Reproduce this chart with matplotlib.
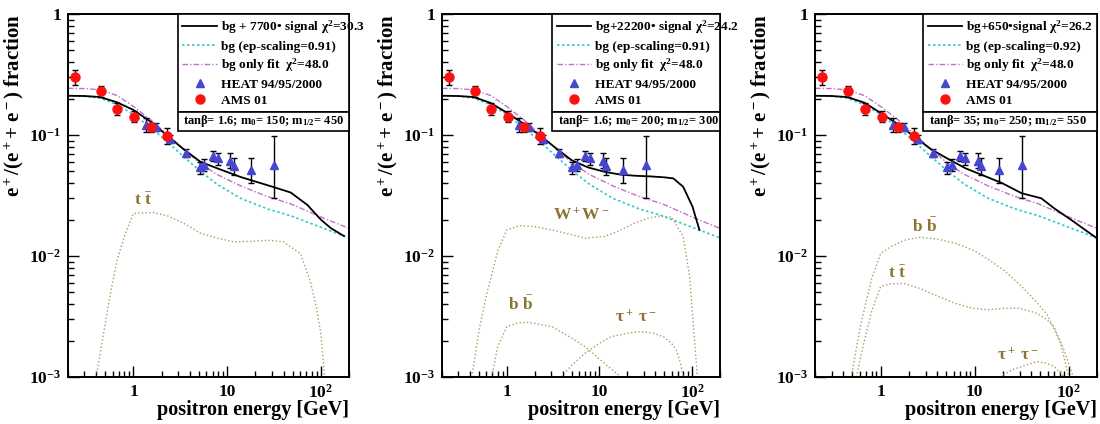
import numpy as np
import matplotlib
matplotlib.use('Agg')
import matplotlib.pyplot as plt
from matplotlib.ticker import LogLocator, FuncFormatter, NullFormatter
from matplotlib.patches import Rectangle

plt.rcParams['font.family'] = ['Liberation Serif', 'DejaVu Serif']
plt.rcParams['font.weight'] = 'bold'
plt.rcParams['axes.labelweight'] = 'bold'
plt.rcParams['mathtext.fontset'] = 'custom'
plt.rcParams['mathtext.rm'] = 'Liberation Serif:bold'
plt.rcParams['mathtext.it'] = 'Liberation Serif:bold:italic'
plt.rcParams['mathtext.bf'] = 'Liberation Serif:bold'
plt.rcParams['mathtext.default'] = 'rm'

#measured points, same in all three panels
ams_E = [0.24, 0.45, 0.674, 1.02, 1.52, 2.27]
ams_f = [0.30, 0.231, 0.165, 0.141, 0.116, 0.0987]
ams_lo = [0.26, 0.207, 0.146, 0.127, 0.105, 0.084]
ams_hi = [0.345, 0.255, 0.183, 0.158, 0.125, 0.115]

heat_E = [1.36, 1.75, 2.47, 3.63, 5.08, 5.70, 7.05, 7.91, 10.8, 11.8, 18.0, 31.7]
heat_f = [0.121, 0.116, 0.093, 0.071, 0.054, 0.0565, 0.0675, 0.064, 0.061, 0.0558, 0.051, 0.0565]
heat_lo = [0.105, 0.107, 0.086, 0.066, 0.048, 0.050, 0.061, 0.057, 0.053, 0.047, 0.040, 0.030]
heat_hi = [0.137, 0.125, 0.100, 0.077, 0.060, 0.063, 0.074, 0.071, 0.071, 0.065, 0.065, 0.0988]

#background curves
bg_E = [0.2, 0.3, 0.44, 0.67, 1.0, 1.52, 2.29, 3.45, 5.2, 7.86, 13.9, 26.9, 47.6, 108, 200]
bg_f = [0.211, 0.209, 0.202, 0.178, 0.148, 0.115, 0.088, 0.066, 0.050, 0.039, 0.030, 0.0245, 0.0215, 0.0169, 0.0141]

bgfit_E = [0.2, 0.3, 0.44, 0.67, 1.0, 1.52, 2.29, 3.45, 5.2, 7.86, 13.9, 26.9, 47.6, 108, 200]
bgfit_f = [0.243, 0.242, 0.236, 0.212, 0.172, 0.134, 0.101, 0.076, 0.058, 0.047, 0.038, 0.031, 0.027, 0.0205, 0.0169]

#bg + signal, one per panel
sig1_E = [0.2, 0.3, 0.44, 0.67, 1.0, 1.52, 2.29, 3.45, 5.2, 7.86, 13.9, 31.7, 47.6, 72, 100, 128, 177]
sig1_f = [0.211, 0.210, 0.206, 0.186, 0.161, 0.129, 0.099, 0.076, 0.060, 0.053, 0.045, 0.037, 0.0335, 0.0264, 0.020, 0.0170, 0.0146]

sig2_E = [0.2, 0.3, 0.44, 0.67, 1.0, 1.52, 2.33, 3.45, 5.0, 7.5, 11.3, 17, 25, 35, 50, 62.6, 80, 101, 120]
sig2_f = [0.211, 0.210, 0.206, 0.184, 0.153, 0.124, 0.098, 0.077, 0.062, 0.054, 0.0497, 0.047, 0.046, 0.0455, 0.0447, 0.0438, 0.0374, 0.0256, 0.0164]

sig3_E = [0.2, 0.3, 0.44, 0.67, 1.0, 1.52, 2.4, 3.45, 5.5, 8, 12, 19.6, 31.6, 51, 70, 105, 200]
sig3_f = [0.211, 0.210, 0.206, 0.185, 0.152, 0.123, 0.094, 0.076, 0.062, 0.053, 0.0467, 0.040, 0.033, 0.030, 0.0248, 0.020, 0.0140]

#annihilation channels
tt1_E = [0.40, 0.48, 0.567, 0.67, 0.82, 1.0, 1.6, 2.3, 3.5, 5.2, 8, 11.8, 18, 27, 40, 61, 78, 90, 100, 110]
tt1_f = [0.001, 0.0023, 0.0049, 0.0093, 0.0154, 0.0225, 0.0229, 0.0215, 0.0185, 0.0154, 0.014, 0.0131, 0.0132, 0.0135, 0.0131, 0.0104, 0.0060, 0.0037, 0.0023, 0.001]

ww2_E = [0.42, 0.5, 0.61, 0.8, 1.0, 1.37, 2.0, 3.07, 5, 7, 11.3, 16, 23.5, 33, 45, 60, 80, 94, 114]
ww2_f = [0.001, 0.0024, 0.0049, 0.0110, 0.0164, 0.0178, 0.0175, 0.0164, 0.0150, 0.0140, 0.0145, 0.0160, 0.0186, 0.0205, 0.0214, 0.021, 0.0145, 0.0068, 0.001]
bb2_E = [0.69, 0.8, 1.0, 1.3, 1.75, 3.1, 5, 7, 11.3, 17]
bb2_f = [0.001, 0.0018, 0.0026, 0.0028, 0.00283, 0.0026, 0.0021, 0.00178, 0.0013, 0.001]
tau2_E = [3.9, 5, 7, 10, 13.3, 20, 27.7, 38, 49, 60, 67.5, 75, 80]
tau2_f = [0.001, 0.00125, 0.00157, 0.0019, 0.00215, 0.0023, 0.00237, 0.0023, 0.00215, 0.0019, 0.00167, 0.0013, 0.001]

bb3_E = [0.486, 0.6, 0.8, 1.0, 1.27, 1.8, 2.62, 4, 6.3, 10, 14.2, 21, 31.6, 45, 60, 82, 100]
bb3_f = [0.001, 0.0025, 0.0065, 0.0105, 0.0119, 0.0135, 0.0143, 0.0138, 0.0127, 0.011, 0.0093, 0.0075, 0.0056, 0.0042, 0.0032, 0.0019, 0.001]
tt3_E = [0.55, 0.65, 0.8, 1.0, 1.3, 1.75, 2.6, 4.2, 6, 9.4, 14, 21, 30, 46, 58, 70, 89, 112]
tt3_f = [0.001, 0.0018, 0.0035, 0.0056, 0.0059, 0.00594, 0.0054, 0.0046, 0.0041, 0.0037, 0.0036, 0.0037, 0.0037, 0.00336, 0.0030, 0.0026, 0.00167, 0.001]
tau3_E = [18.7, 25, 31.6, 46, 58, 70, 80, 89]
tau3_f = [0.001, 0.00115, 0.00122, 0.00134, 0.0013, 0.00122, 0.0011, 0.001]

sig_labels = [u'bg + 7700\u2022 signal \u03c7$^2$=30.3',
              u'bg+22200\u2022 signal \u03c7$^2$=24.2',
              u'bg+650\u2022signal \u03c7$^2$=26.2']
bg_labels = ['bg (ep-scaling=0.91)', 'bg (ep-scaling=0.91)', 'bg (ep-scaling=0.92)']
info_labels = [u'tan\u03b2= 1.6; m$_0$= 150; m$_{1/2}$= 450',
               u'tan\u03b2= 1.6; m$_0$= 200; m$_{1/2}$= 300',
               u'tan\u03b2= 35; m$_0$= 250; m$_{1/2}$= 550']

###################################
### layout and styles ###
###################################

W, H = 1100, 424
#axes boxes in pixels: left, right
panel_px = [(68, 349), (442, 720), (815, 1097)]
top_px, bottom_px = 14, 377
legend_x0 = [0.39, 0.396, 0.383]

cyan = '#30c8cc'
magenta = '#c070cc'
olive_line = '#b09a62'
olive_text = '#8c7430'

def log_label(v, pos):
    e = int(round(np.log10(v)))
    if e == 0:
        return '1'
    if e == 1:
        return '10'
    return r'$10^{%d}$' % e

fig = plt.figure(figsize=(W/100, H/100), dpi=100)

sig_data = [(sig1_E, sig1_f), (sig2_E, sig2_f), (sig3_E, sig3_f)]
channels = [
    [(tt1_E, tt1_f, r't $\bar{t}$', 1.25, 0.0285)],
    [(ww2_E, ww2_f, r'W$^+$W$^-$', 6.4, 0.0215),
     (bb2_E, bb2_f, r'b $\bar{b}$', 1.4, 0.0040),
     (tau2_E, tau2_f, u'\u03c4$^+$ \u03c4$^-$', 25, 0.0031)],
    [(bb3_E, bb3_f, r'b $\bar{b}$', 2.95, 0.0175),
     (tt3_E, tt3_f, r't $\bar{t}$', 1.5, 0.0072),
     (tau3_E, tau3_f, u'\u03c4$^+$ \u03c4$^-$', 29, 0.0015)],
]

for i in range(3):
    x0, x1 = panel_px[i]
    ax = fig.add_axes([x0/W, 1 - bottom_px/H, (x1-x0)/W, (bottom_px-top_px)/H])
    ax.set_xscale('log')
    ax.set_yscale('log')
    ax.set_xlim(0.2, 200)
    ax.set_ylim(1e-3, 1)

    #channel curves and their names
    for cE, cf, name, tx, ty in channels[i]:
        ax.plot(cE, cf, ls=':', color=olive_line, lw=1.0)
        ax.text(tx, ty, name, color=olive_text, fontsize=12.5, fontweight='bold',
                ha='center', va='center')

    l_bg, = ax.plot(bg_E, bg_f, ls=(0, (1.5, 1.5)), color=cyan, lw=1.2, label=bg_labels[i])
    l_fit, = ax.plot(bgfit_E, bgfit_f, ls=(0, (4, 1.5, 1, 1.5)), color=magenta, lw=1.0,
                     label=u'bg only fit  \u03c7$^2$=48.0')
    l_sig, = ax.plot(sig_data[i][0], sig_data[i][1], color='black', lw=1.3, label=sig_labels[i])

    #error bars then markers on top
    ax.errorbar(heat_E, heat_f,
                yerr=[np.array(heat_f) - np.array(heat_lo), np.array(heat_hi) - np.array(heat_f)],
                fmt='none', ecolor='black', elinewidth=1.0, capsize=2.5, capthick=1.0)
    ax.errorbar(ams_E, ams_f,
                yerr=[np.array(ams_f) - np.array(ams_lo), np.array(ams_hi) - np.array(ams_f)],
                fmt='none', ecolor='black', elinewidth=1.0, capsize=2.5, capthick=1.0)
    l_heat, = ax.plot(heat_E, heat_f, ls='none', marker='^', ms=6, color='#4646d2',
                      mec='#4646d2', label='HEAT 94/95/2000')
    l_ams, = ax.plot(ams_E, ams_f, ls='none', marker='o', ms=6.5, color='#ff1010',
                     mec='#ff1010', label='AMS 01')

    lx = legend_x0[i]
    leg = ax.legend(handles=[l_sig, l_bg, l_fit, l_heat, l_ams], loc='upper left',
                    bbox_to_anchor=(lx, 0, 1 - lx, 1), mode='expand', borderaxespad=0,
                    handlelength=2.6, handletextpad=0.3, labelspacing=0.3,
                    borderpad=0.35, fancybox=False, framealpha=1, edgecolor='black',
                    prop={'weight': 'bold', 'size': 9.6})
    leg.get_frame().set_linewidth(1.2)

    #ROOT-like axes
    ax.xaxis.set_major_locator(LogLocator(base=10, numticks=10))
    ax.xaxis.set_minor_locator(LogLocator(base=10, subs=np.arange(2, 10), numticks=20))
    ax.yaxis.set_major_locator(LogLocator(base=10, numticks=10))
    ax.yaxis.set_minor_locator(LogLocator(base=10, subs=np.arange(2, 10), numticks=20))
    ax.xaxis.set_major_formatter(FuncFormatter(log_label))
    ax.yaxis.set_major_formatter(FuncFormatter(log_label))
    ax.xaxis.set_minor_formatter(NullFormatter())
    ax.yaxis.set_minor_formatter(NullFormatter())
    ax.tick_params(which='both', direction='in', top=False, right=False, labelsize=12.5, width=1)
    ax.tick_params(which='major', length=8, pad=5)
    ax.tick_params(which='minor', length=4)
    for s in ax.spines.values():
        s.set_linewidth(1.4)

    ax.set_xlabel('positron energy [GeV]', fontsize=14.5, loc='right', labelpad=-1)
    ax.set_ylabel('e$^+$/(e$^+$+ e$^-$) fraction', fontsize=15, loc='top', labelpad=2)

    #parameter box right under the legend
    fig.canvas.draw()
    bb = leg.get_window_extent().transformed(ax.transAxes.inverted())
    box_h = 19 / (bottom_px - top_px)
    ax.add_patch(Rectangle((bb.x0, bb.y0 - box_h), bb.x1 - bb.x0, box_h, transform=ax.transAxes,
                           facecolor='white', edgecolor='black', lw=1.2, zorder=6, clip_on=False))
    ax.text(bb.x0 + 0.02, bb.y0 - box_h/2, info_labels[i], transform=ax.transAxes,
            fontsize=9.0, va='center', ha='left', zorder=7)

fig.savefig('out.png', dpi=100)
